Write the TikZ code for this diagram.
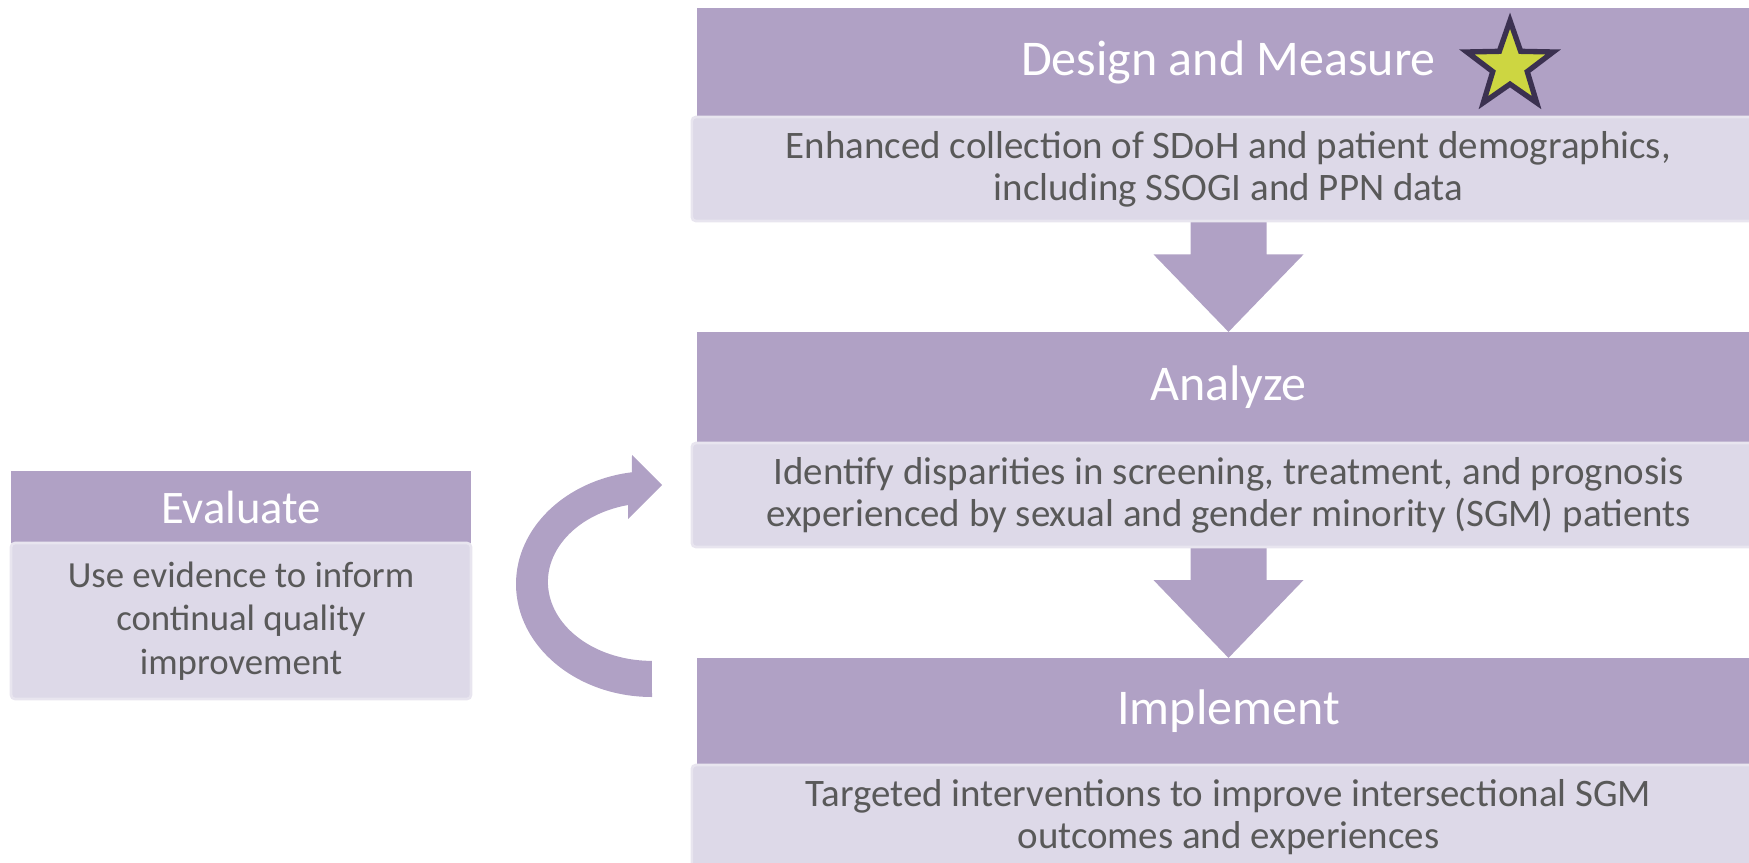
\documentclass[tikz,border=0pt]{standalone}
\usepackage{fontspec}
\setmainfont{Carlito}
\usetikzlibrary{calc}
\usetikzlibrary{shapes.geometric}

\definecolor{headfill}{HTML}{B0A1C5}
\definecolor{bodyfill}{HTML}{DDD9E8}
\definecolor{bodyedge}{HTML}{E8E5EF}
\definecolor{textgray}{HTML}{595959}
\definecolor{starfill}{HTML}{CDD641}
\definecolor{staredge}{HTML}{3B3150}

\tikzset{
	head/.style={rectangle, fill=headfill, text=white, inner sep=0pt, font=\fontsize{37.5}{45}\selectfont},
	body/.style={rectangle, fill=bodyfill, draw=bodyedge, line width=2pt, rounded corners=3pt, text=textgray, align=center, inner sep=0pt, font=\fontsize{29.2}{31.5}\selectfont},
	flow/.style={fill=headfill},
}

\begin{document}
\begin{tikzpicture}[x=0.75pt, y=-0.75pt]
		\useasboundingbox (0,0) rectangle (1749,863);

		% the three steps on the right
		\node[head, minimum width=797pt, minimum height=82pt] (dmhead) at (1228.5,62.5) {Design and Measure};
		\node[head, minimum width=797pt, minimum height=83pt] (anhead) at (1228.5,387.5) {Analyze};
		\node[head, minimum width=797pt, minimum height=80pt] (imhead) at (1228.5,711.5) {Implement};

		% arrows between the steps
		\fill[flow] ($(dmhead.south)+(-38,104)$) -- ($(dmhead.south)+(-38,137)$) -- ($(dmhead.south)+(-75,137)$) -- (anhead.north) -- ($(dmhead.south)+(75,137)$) -- ($(dmhead.south)+(38,137)$) -- ($(dmhead.south)+(38,104)$) -- cycle;
		\fill[flow] ($(anhead.south)+(-38,104)$) -- ($(anhead.south)+(-38,137)$) -- ($(anhead.south)+(-75,137)$) -- (imhead.north) -- ($(anhead.south)+(75,137)$) -- ($(anhead.south)+(38,137)$) -- ($(anhead.south)+(38,104)$) -- cycle;

		\node[body, minimum width=805pt, minimum height=78pt] (dmbody) at (1228.5,169) {Enhanced collection of SDoH and patient demographics,\\including SSOGI and PPN data};
		\node[body, minimum width=805pt, minimum height=78pt] (anbody) at (1228.5,495) {Identify disparities in screening, treatment, and prognosis\\experienced by sexual and gender minority (SGM) patients};
		\node[body, minimum width=805pt, minimum height=78pt] (imbody) at (1228.5,817) {Targeted interventions to improve intersectional SGM\\outcomes and experiences};

		\node[star, star points=5, star point ratio=2.5, minimum size=68pt, inner sep=0pt, fill=starfill, draw=staredge, line width=4pt] (star) at (1510,66) {};

		% evaluate step on the left
		\node[head, minimum width=345pt, minimum height=54pt, font=\fontsize{35}{42}\selectfont] (evhead) at (241,507) {Evaluate};
		\node[body, minimum width=345pt, minimum height=117pt, font=\fontsize{27.6}{32.6}\selectfont] (evbody) at (241,621) {Use evidence to inform\\continual quality\\improvement};

		% loop back up to the analysis
		\fill[flow] (652,697) arc[start angle=90, end angle=261.5, x radius=136, y radius=113] -- (632,455) -- (662,485) -- (628,519) -- (628,505) arc[start angle=256.7, end angle=90, x radius=104, y radius=79] -- cycle;

	\end{tikzpicture}
\end{document}
